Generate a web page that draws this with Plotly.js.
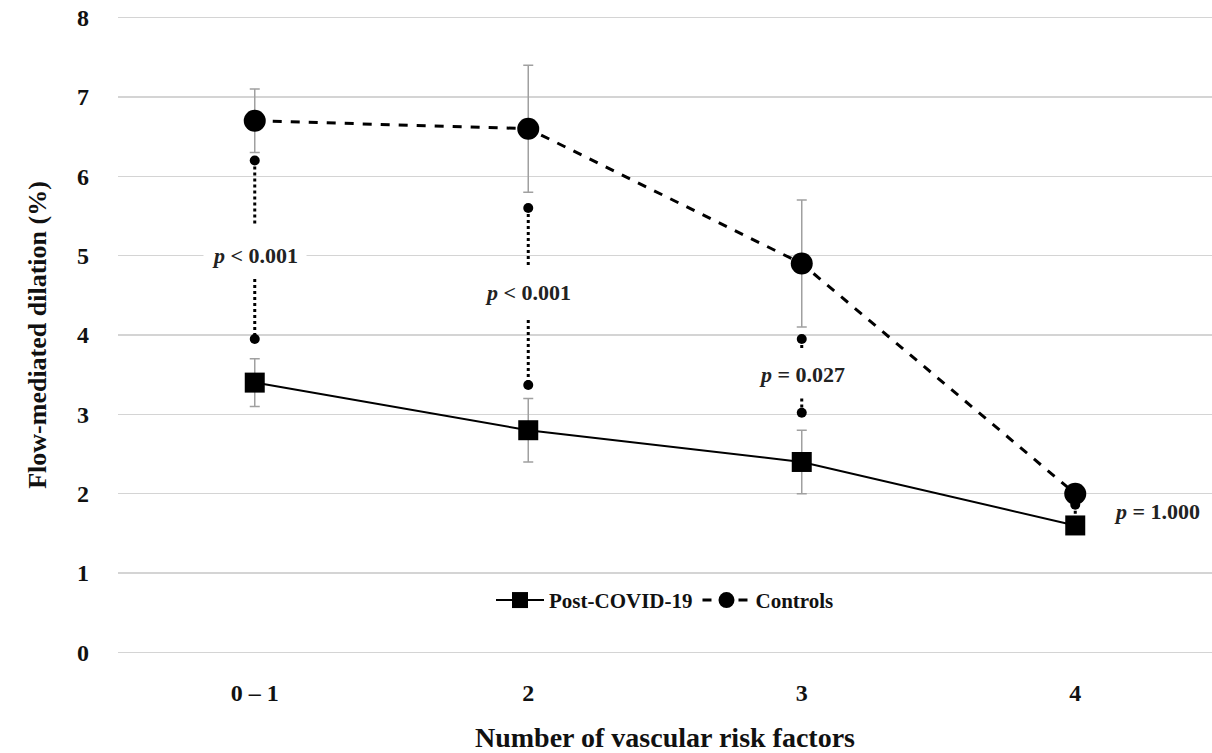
<!DOCTYPE html>
<html>
<head>
<meta charset="utf-8">
<script src="https://cdn.plot.ly/plotly-3.0.1.min.js"></script>
<style>html,body{margin:0;padding:0;background:#fff;}#chart{width:1212px;height:753px;}</style>
</head>
<body>
<div id="chart"></div>
<script>
// Data
const categories = ["0 – 1", "2", "3", "4"];
const postCovid = [3.4, 2.8, 2.4, 1.6];
const postCovidErr = [0.3, 0.4, 0.4, 0];
const controls = [6.7, 6.6, 4.9, 2.0];
const controlsErr = [0.4, 0.8, 0.8, 0];
// significance connector segments [top, bottom] for upper and lower pieces
const sigUpperTop = [6.2, 5.6, 3.95, 1.86];
const sigUpperBottom = [5.4, 4.88, 3.82, 1.74];
const sigLowerTop = [4.78, 4.19, 3.2, null];
const sigLowerBottom = [3.95, 3.37, 3.02, null];
const pLabels = ["<i>p</i> < 0.001", "<i>p</i> < 0.001", "<i>p</i> = 0.027", "<i>p</i> = 1.000"];
const pLabelX = [0, 1, 2, 3.3];
const pLabelY = [5.0, 4.53, 3.5, 1.77];

const font = "Liberation Serif, Times New Roman, serif";
const traces = [];

// significance dotted connectors
const dotX = [], dotY = [];
categories.forEach((c, i) => {
  const segs = [[sigUpperTop[i], sigUpperBottom[i]]];
  dotX.push(c); dotY.push(sigUpperTop[i]);
  if (sigLowerTop[i] !== null) {
    segs.push([sigLowerTop[i], sigLowerBottom[i]]);
    dotX.push(c); dotY.push(sigLowerBottom[i]);
  }
  segs.forEach(([a, b]) => {
    traces.push({
      x: [c, c], y: [a, b], type: "scatter", mode: "lines",
      line: {color: "#000", width: 3, dash: "dot"},
      showlegend: false, hoverinfo: "skip"
    });
  });
});
traces.push({
  x: dotX, y: dotY, type: "scatter", mode: "markers",
  marker: {symbol: "circle", size: 10, color: "#000", opacity: 1, line: {width: 0}},
  showlegend: false, hoverinfo: "skip"
});

traces.push({
  x: categories, y: postCovid, name: "Post-COVID-19", type: "scatter", mode: "lines+markers",
  line: {color: "#000", width: 2},
  marker: {symbol: "square", size: 20, color: "#000"},
  error_y: {type: "data", array: postCovidErr, visible: true, color: "#a0a0a0", thickness: 1.5, width: 5}
});
traces.push({
  x: categories, y: controls, name: "Controls", type: "scatter", mode: "lines+markers",
  line: {color: "#000", width: 3, dash: "dash"},
  marker: {symbol: "circle", size: 22, color: "#000"},
  error_y: {type: "data", array: controlsErr, visible: true, color: "#a0a0a0", thickness: 1.5, width: 5}
});

const annotations = categories.map((c, i) => ({
  x: pLabelX[i], y: pLabelY[i], xref: "x", yref: "y",
  text: "<b>" + pLabels[i] + "</b>", showarrow: false,
  font: {family: font, size: 22, color: "#222"},
  bgcolor: i === 3 ? "rgba(0,0,0,0)" : "#fff", borderpad: 8
}));

const layout = {
  width: 1212, height: 753,
  margin: {l: 118, r: 0, t: 16, b: 99},
  paper_bgcolor: "#fff", plot_bgcolor: "#fff",
  showlegend: true,
  legend: {orientation: "h", x: 0.5, xanchor: "center", y: 0.084, yanchor: "middle", itemwidth: 48,
    font: {family: font, size: 21, color: "#111", weight: "bold"}, bgcolor: "rgba(255,255,255,0)"},
  xaxis: {
    type: "category", range: [-0.5, 3.5], showgrid: false, zeroline: false, showline: false,
    tickfont: {family: font, size: 24, color: "#111", weight: "bold"}, ticks: "", ticklabelstandoff: 22,
    title: {text: "<b>Number of vascular risk factors</b>", font: {family: font, size: 28, color: "#111"}, standoff: 22}
  },
  yaxis: {
    range: [-0.02, 8.02], tickvals: [0,1,2,3,4,5,6,7,8], showgrid: true, gridcolor: "#d4d4d4", gridwidth: 1.5, zeroline: false, showline: false,
    tickfont: {family: font, size: 24, color: "#111", weight: "bold"}, ticks: "", ticklabelstandoff: 28,
    title: {text: "<b>Flow-mediated dilation (%)</b>", font: {family: font, size: 26, color: "#111"}, standoff: 22}
  },
  annotations: annotations
};

Plotly.newPlot("chart", traces, layout, {displayModeBar: false, staticPlot: true});
</script>
</body>
</html>
